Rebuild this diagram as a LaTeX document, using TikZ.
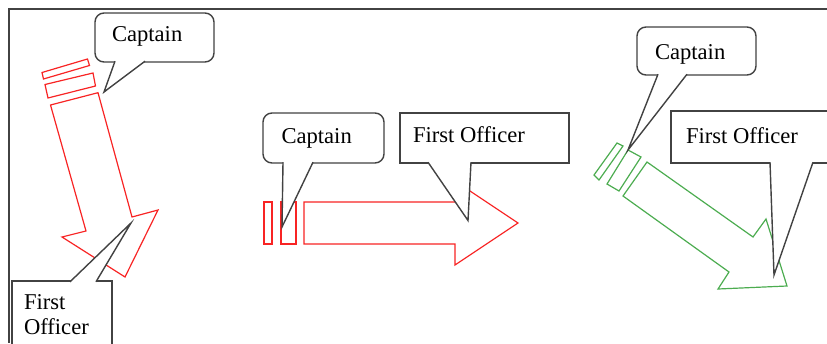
\documentclass[tikz,border=0pt]{standalone}
\usepackage{fontspec}
\setmainfont{Liberation Serif}
\definecolor{arrowred}{RGB}{248,36,36}
\definecolor{arrowgreen}{RGB}{76,172,80}
\definecolor{edgegrey}{RGB}{66,66,66}
\tikzset{
  framestroke/.style={draw=edgegrey, line width=1.3pt},
  redoutline/.style={draw=arrowred, line width=1.2pt, line join=miter},
  greenoutline/.style={draw=arrowgreen, line width=1.2pt, line join=miter},
  bubble/.style={draw=edgegrey, line width=1.4pt, fill=white, inner sep=0pt,
    outer sep=0pt, anchor=north west},
  roundbubble/.style={bubble, rounded corners=9pt},
  tailline/.style={draw=edgegrey, line width=1.4pt, line join=miter},
  calltext/.style={anchor=base west, inner sep=0pt, outer sep=0pt,
    font=\fontsize{22.6}{26}\selectfont}
}
% speech-bubble tail: base points #1 and #2 (just inside the box), tip #3
\newcommand\bubbletail[3]{%
  \fill[white] (#1) -- (#3) -- (#2) -- cycle;
  \draw[tailline] (#1) -- (#3) -- (#2);
}
\begin{document}
\begin{tikzpicture}[x=1pt, y=-1pt]
\useasboundingbox (0,0) rectangle (827,343);

% page frame
\draw[framestroke] (827,9) -- (9,9) -- (9,343);

% ---- red arrow, pointing down to the right ----
\draw[redoutline] (42,72.5) -- (87.5,59) -- (89.5,65.5) -- (43.5,79) -- cycle;
\draw[redoutline] (45,84.5) -- (93,73) -- (95.5,86) -- (48,98) -- cycle;
\draw[redoutline] (50.5,105) -- (98,92.7) -- (132,217) -- (158,210)
  -- (125,277) -- (62,237) -- (86,231) -- cycle;

% ---- red arrow, pointing right ----
\draw[redoutline] (264,202) rectangle (272,244);
\draw[redoutline] (281,202) rectangle (296,244);
\draw[redoutline] (304,202) -- (455,202) -- (455,181) -- (518,223)
  -- (455,265) -- (455,244) -- (304,244) -- cycle;

% ---- green arrow, pointing down to the right ----
\draw[greenoutline] (594,175) -- (617,143) -- (623,146) -- (599,180) -- cycle;
\draw[greenoutline] (607,184) -- (628,150) -- (641,157) -- (619,191) -- cycle;
\draw[greenoutline] (647,162) -- (753,237) -- (766,219) -- (787,286)
  -- (718,289) -- (729,272) -- (623,196) -- cycle;

% ---- speech bubbles ----
% Captain, left
\node[roundbubble, minimum width=119pt, minimum height=49pt] (capA) at (95,13) {};
\coordinate (capAa) at (115,61.2);
\coordinate (capAb) at (145,61.2);
\coordinate (capAtip) at (104,92);
\bubbletail{capAa}{capAb}{capAtip}
\node[calltext] (capAtext) at (112,41.5) {Captain};

% First Officer, lower left
\node[bubble, minimum width=100pt, minimum height=90pt] (foA) at (12,281) {};
\coordinate (foAa) at (70,281.8);
\coordinate (foAb) at (96,281.8);
\coordinate (foAtip) at (131,223);
\bubbletail{foAa}{foAb}{foAtip}
\node[calltext] (foAtext1) at (24,309.5) {First};
\node[calltext] (foAtext2) at (24,334.5) {Officer};

% Captain, middle
\node[roundbubble, minimum width=121pt, minimum height=50pt] (capB) at (263,113) {};
\coordinate (capBa) at (283,162.2);
\coordinate (capBb) at (313,162.2);
\coordinate (capBtip) at (282,227);
\bubbletail{capBa}{capBb}{capBtip}
\node[calltext] (capBtext) at (281.5,143) {Captain};

% First Officer, middle
\node[bubble, minimum width=169pt, minimum height=50pt] (foB) at (400,113) {};
\coordinate (foBa) at (428,162.2);
\coordinate (foBb) at (471,162.2);
\coordinate (foBtip) at (468,220.5);
\bubbletail{foBa}{foBb}{foBtip}
\node[calltext] (foBtext) at (413,142) {First Officer};

% Captain, right
\node[roundbubble, minimum width=119pt, minimum height=48pt] (capC) at (637,27) {};
\coordinate (capCa) at (658,74.2);
\coordinate (capCb) at (687,74.2);
\coordinate (capCtip) at (628,150);
\bubbletail{capCa}{capCb}{capCtip}
\node[calltext] (capCtext) at (655,59.5) {Captain};

% First Officer, right
\node[bubble, minimum width=190pt, minimum height=52pt] (foC) at (671,111) {};
\coordinate (foCa) at (770,162.2);
\coordinate (foCb) at (813,162.2);
\coordinate (foCtip) at (774,275);
\bubbletail{foCa}{foCb}{foCtip}
\node[calltext] (foCtext) at (686,143) {First Officer};
\end{tikzpicture}
\end{document}
